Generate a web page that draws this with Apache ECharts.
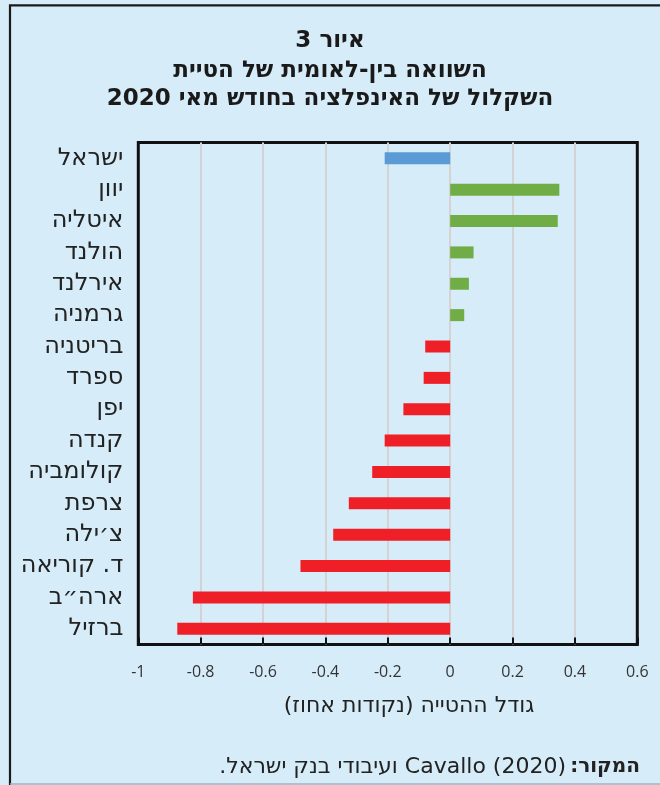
<!DOCTYPE html>
<html><head><meta charset="utf-8">
<script src="https://cdn.jsdelivr.net/npm/echarts@6/dist/echarts.min.js"></script>
<style>html,body{margin:0;padding:0;background:#d6edf9}#c{width:660px;height:785px}</style>
</head><body><div id="c" dir="rtl"></div>
<script>
const categories = ['ישראל','יוון','איטליה','הולנד','אירלנד','גרמניה','בריטניה','ספרד','יפן','קנדה','קולומביה','צרפת','צ׳ילה','ד. קוריאה','ארה״ב','ברזיל'];
const values = [-0.21,0.35,0.345,0.075,0.06,0.045,-0.08,-0.085,-0.15,-0.21,-0.25,-0.325,-0.375,-0.48,-0.825,-0.875];
const xMin = -1, xMax = 0.6, xStep = 0.2;
const titleLines = ['איור 3','השוואה בין-לאומית של הטיית','השקלול של האינפלציה בחודש מאי 2020'];
const axisTitle = 'גודל ההטייה (נקודות אחוז)';
const sourceLabel = 'המקור:';
const sourceText = 'Cavallo (2020) ועיבודי בנק ישראל.';

const HEB = "'DejaVu Sans', sans-serif";
const NUM = "'Open Sans', 'Noto Sans', sans-serif";
const colorFor = (v, i) => i === 0 ? '#5b9bd5' : (v > 0 ? '#70ad47' : '#ee1f26');

const chart = echarts.init(document.getElementById('c'), null, {renderer: 'canvas'});
chart.setOption({
  backgroundColor: '#d6edf9',
  animation: false,
  grid: {left: 138.3, top: 142.6, right: 22.7, bottom: 140.5, show: true, borderColor: '#111', borderWidth: 3, backgroundColor: 'transparent'},
  xAxis: {
    type: 'value', min: xMin, max: xMax, interval: xStep,
    axisLine: {show: false},
    axisTick: {show: true, inside: true, length: 7, lineStyle: {color: '#111', width: 2}},
    splitLine: {show: true, showMinLine: false, showMaxLine: false, lineStyle: {color: '#d3d3d3', width: 2}},
    axisLabel: {color: '#333', fontFamily: NUM, fontSize: 16, margin: 20,
      formatter: v => '\u200E' + (Math.round(v * 10) / 10)}
  },
  yAxis: {
    type: 'category', data: categories, inverse: true,
    axisLine: {show: false}, axisTick: {show: false}, splitLine: {show: false},
    axisLabel: {color: '#222', fontFamily: HEB, fontSize: 24, margin: 15}
  },
  series: [{
    type: 'bar', barWidth: 12,
    data: values.map((v, i) => ({value: v, itemStyle: {color: colorFor(v, i)}}))
  }],
  graphic: [
    {type: 'polyline', silent: true, shape: {points: [[10, 790], [10, 5.3], [670, 5.3]]}, style: {stroke: '#1a1a1a', lineWidth: 2.2, fill: null}},
    {type: 'line', silent: true, shape: {x1: 10, y1: 784, x2: 670, y2: 784}, style: {stroke: '#9fb3bf', lineWidth: 1.5}},
    {type: 'text', x: 330, y: 41, style: {text: titleLines[0], font: "bold 23px " + HEB, fill: '#1a1a1a', align: 'center', verticalAlign: 'middle'}},
    {type: 'text', x: 330, y: 71, style: {text: titleLines[1], font: "bold 23px " + HEB, fill: '#1a1a1a', align: 'center', verticalAlign: 'middle'}},
    {type: 'text', x: 330, y: 99, style: {text: titleLines[2], font: "bold 23px " + HEB, fill: '#1a1a1a', align: 'center', verticalAlign: 'middle'}},
    {type: 'text', x: 409, y: 706, style: {text: axisTitle, font: "22px " + HEB, fill: '#222', align: 'center', verticalAlign: 'middle'}},
    {type: 'text', x: 640, y: 767, style: {text: sourceLabel, font: "bold 20px " + HEB, fill: '#222', align: 'right', verticalAlign: 'middle'}},
    {type: 'text', x: 566, y: 767, style: {text: sourceText, font: "22px " + HEB, fill: '#222', align: 'right', verticalAlign: 'middle'}}
  ]
});
</script></body></html>
